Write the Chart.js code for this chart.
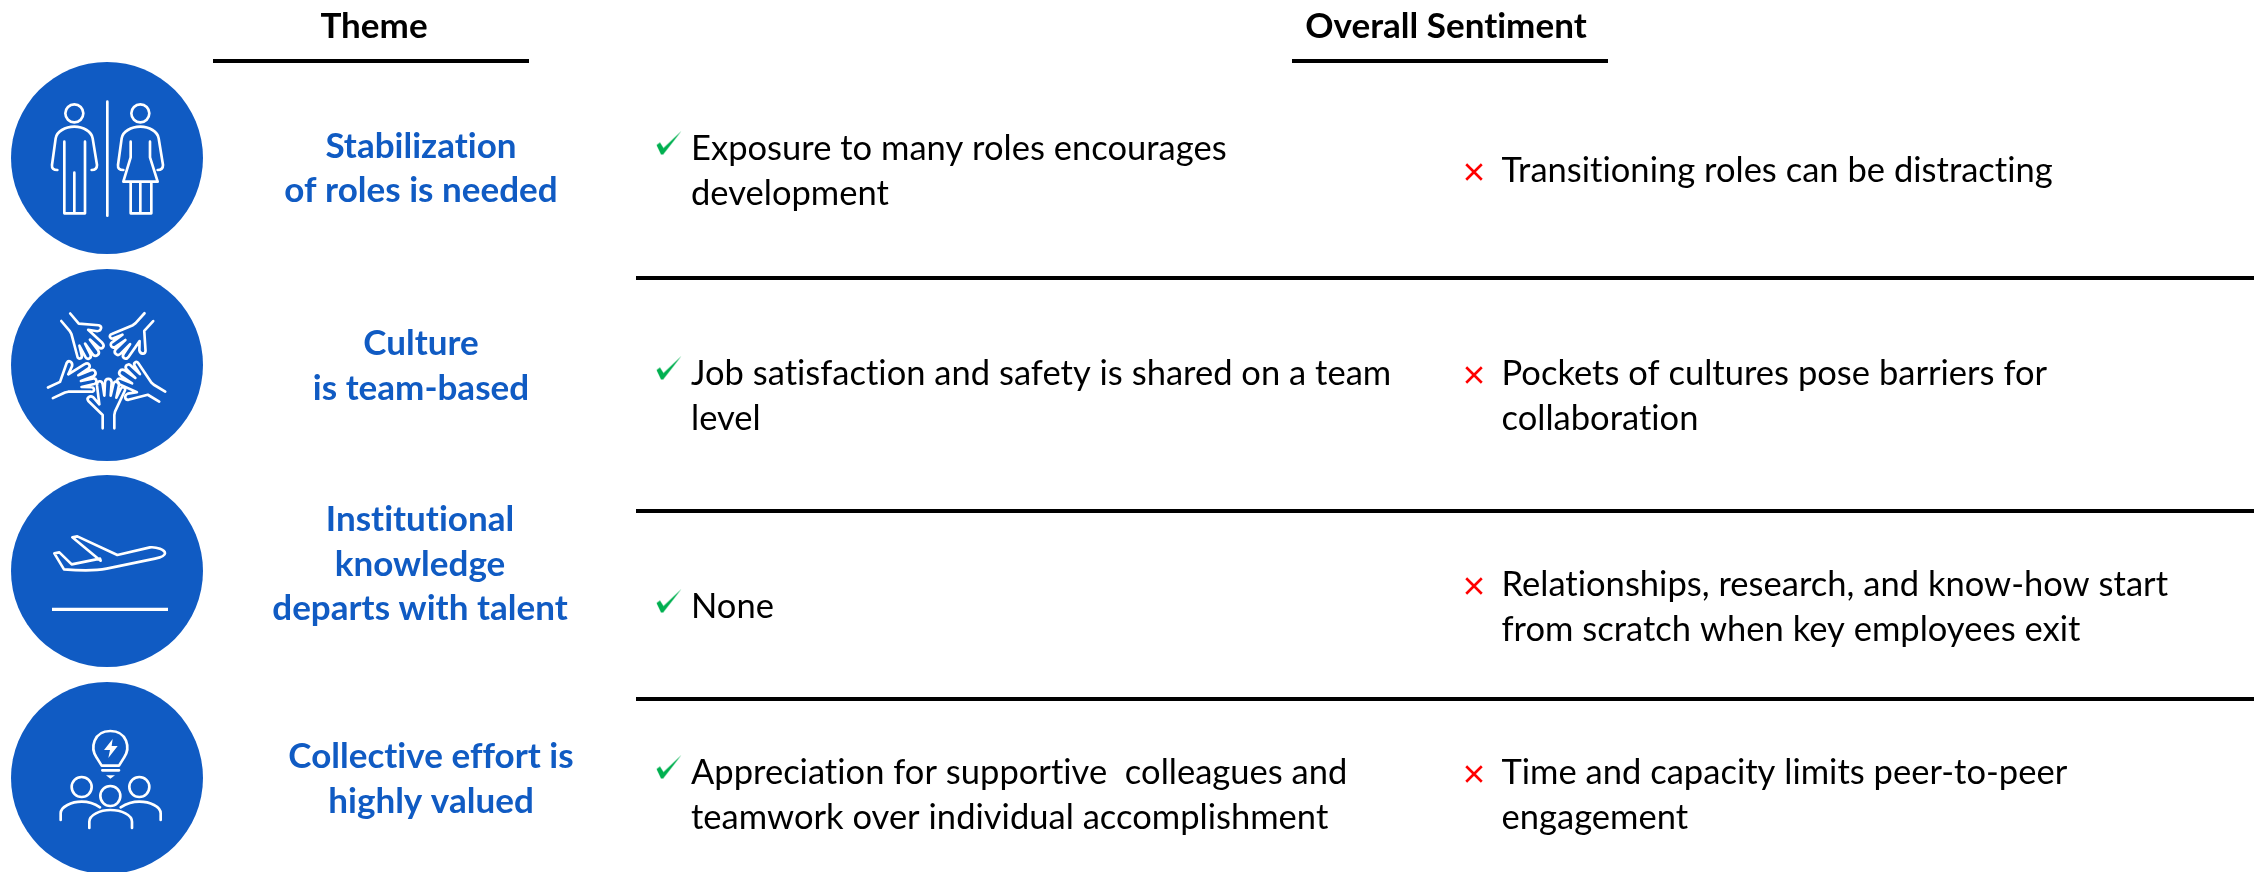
<!DOCTYPE html>
<html>
<head>
<meta charset="utf-8">
<title>Theme and overall sentiment</title>
<script src="https://cdn.jsdelivr.net/npm/chart.js@4"></script>
<style>
    html, body { margin: 0; padding: 0; background: #fff; overflow: hidden; }
    canvas { display: block; }
</style>
</head>
<body>
<canvas id="themeChart" width="2254" height="872"></canvas>
<script>
// Table content
const headers = ["Theme", "Overall Sentiment"];
const themes = [
    ["Stabilization", "of roles is needed"],
    ["Culture", "is team-based"],
    ["Institutional", "knowledge", "departs with talent"],
    ["Collective effort is", "highly valued"]
];
const positives = [
    ["Exposure to many roles encourages", "development"],
    ["Job satisfaction and safety is shared on a team", "level"],
    ["None"],
    ["Appreciation for supportive  colleagues and", "teamwork over individual accomplishment"]
];
const negatives = [
    ["Transitioning roles can be distracting"],
    ["Pockets of cultures pose barriers for", "collaboration"],
    ["Relationships, research, and know-how start", "from scratch when key employees exit"],
    ["Time and capacity limits peer-to-peer", "engagement"]
];

// Layout, in page pixels (the axes run 0-2254 and 0-872)
const circleX = 107;
const circleY = [158, 365, 571, 778];
const headerX = [374, 1446];
const headerBase = 38;
const headerRules = [[213, 529], [1292, 1608]];
const headerRuleY = 61;
const rowRules = [278, 511, 699];
const rowRuleStart = 636;
const themeX = [421, 421, 420, 431];
const themeBase = [157.5, 355, 531, 768];
const positiveX = 691;
const positiveBase = [160, 385, 618, 784];
const negativeX = 1501.5;
const negativeBase = [182, 385, 596, 784];
const lineStep = 44.5;
const checkX = 669;
const crossX = 1474;

const blue = "#105bc3";

// Green tick used as point style
function makeCheck() {
    const c = document.createElement("canvas");
    c.width = 26;
    c.height = 25;
    const g = c.getContext("2d");
    g.fillStyle = "#00b050";
    g.beginPath();
    g.moveTo(0.5, 14.5);
    g.lineTo(4, 12);
    g.lineTo(7.5, 17.5);
    g.lineTo(25.5, 0.5);
    g.lineTo(7.2, 24);
    g.lineTo(5, 24);
    g.closePath();
    g.fill();
    return c;
}

// Icon outlines, drawn in a 3x grid around the circle centre
const iconCentre = [[321, 264], [321, 300], [321, 303], [321, 324]];
const handPath = "M308,490 V450 L265,408 C258,398 270,390 280,397 L298,418 L291,362 C290,345 306,345 308,358 L313,392 L315,352 C316,338 334,338 335,352 L332,392 L340,358 C343,345 359,348 357,360 L349,398 L362,372 C367,362 380,368 374,378 L345,440 L343,450 V490";
const handAngles = [0, 59, 138, 220, 295];

function circlePath(x, y, r) {
    return `M${x + r},${y} A${r},${r} 0 1 0 ${x - r},${y} A${r},${r} 0 1 0 ${x + r},${y} Z `;
}

function drawIcon(ctx, i, px, py) {
    ctx.save();
    ctx.translate(px - iconCentre[i][0] / 3, py - iconCentre[i][1] / 3);
    ctx.scale(1 / 3, 1 / 3);
    ctx.strokeStyle = "#fff";
    ctx.fillStyle = "#fff";
    ctx.lineWidth = 8;
    ctx.lineJoin = "round";
    ctx.lineCap = "round";

    if (i === 0) {
        ctx.stroke(new Path2D(
            circlePath(223, 130, 27) +
            "M172,300 C160,300 155,295 156,285 L167,205 C170,185 195,170 223,170 C250,170 275,185 278,205 L291,285 C291,295 285,300 275,300 " +
            "M193,215 L193,430 L255,430 L255,215 M223,308 L223,430 " +
            "M322,95 L322,437 " +
            circlePath(421, 130, 27) +
            "M370,300 C358,300 353,295 354,285 L365,205 C368,185 393,170 421,170 C448,170 473,185 476,205 L489,285 C489,295 483,300 473,300 " +
            "M392,215 L392,262 L370,335 L473,335 L450,262 L450,215 " +
            "M392,335 V430 H454 V335 M421,335 V430"
        ));
    } else if (i === 1) {
        // same hand turned five times around the middle
        const hand = new Path2D(handPath);
        handAngles.forEach(function(a) {
            ctx.save();
            ctx.translate(322, 300);
            ctx.rotate(-a * Math.PI / 180);
            ctx.translate(-322, -300);
            ctx.stroke(hand);
            ctx.restore();
        });
    } else if (i === 2) {
        ctx.stroke(new Path2D(
            "M163,250 L178,247 L215,283 L300,266 L302,272 L217,202 L232,199 L352,255 L450,232 C470,230 495,240 495,250 C495,258 480,263 465,266 L320,296 C290,302 240,302 192,298 Z"
        ));
        ctx.lineCap = "butt";
        ctx.lineWidth = 10;
        ctx.stroke(new Path2D("M156,418 H504"));
    } else {
        ctx.stroke(new Path2D(
            "M305,287 L290,263 C270,235 280,183 331,183 C382,183 392,235 372,263 L357,287 Z " +
            "M307,301 H357 " +
            circlePath(245, 351, 30) + circlePath(418, 351, 30) + circlePath(331, 378, 30) +
            "M182,450 V430 C182,410 215,395 245,395 C265,395 285,402 300,412 " +
            "M362,412 C378,402 398,395 418,395 C450,395 482,410 482,430 V450 " +
            "M268,474 V455 C268,435 300,420 331,420 C365,420 396,435 396,455 V474"
        ));
        ctx.fill(new Path2D("M338,207 L312,240 L330,240 L325,264 L353,228 L335,228 Z M318,316 H345 L331,326 Z"));
    }
    ctx.restore();
}

// Text and icons go on top of the datasets
const tablePlugin = {
    id: "tableText",
    afterDatasetsDraw: function(chart) {
        const ctx = chart.ctx;
        const x = chart.scales.x;
        const y = chart.scales.y;

        circleY.forEach(function(cy, i) {
            drawIcon(ctx, i, x.getPixelForValue(circleX), y.getPixelForValue(cy));
        });

        function lines(list, px, base, font, color, align) {
            ctx.save();
            ctx.font = font;
            ctx.fillStyle = color;
            ctx.textAlign = align;
            ctx.textBaseline = "alphabetic";
            ctx.letterSpacing = "0.02px"; // stops Lato joining "ti" into a ligature
            list.forEach(function(t, k) {
                ctx.fillText(t, x.getPixelForValue(px), y.getPixelForValue(base + k * lineStep));
            });
            ctx.restore();
        }

        const bold = "bold 35px Lato";
        const regular = "34.5px Lato";
        headers.forEach(function(h, i) {
            lines([h], headerX[i], headerBase, bold, "#000", "center");
        });
        themes.forEach(function(t, i) {
            lines(t, themeX[i], themeBase[i], bold, blue, "center");
        });
        positives.forEach(function(t, i) {
            lines(t, positiveX, positiveBase[i], regular, "#000", "left");
        });
        negatives.forEach(function(t, i) {
            lines(t, negativeX, negativeBase[i], regular, "#000", "left");
        });
    }
};

function ruleDataset(x0, x1, yy) {
    return {
        type: "line",
        data: [{ x: x0, y: yy }, { x: x1, y: yy }],
        borderColor: "#000",
        borderWidth: 4,
        pointRadius: 0,
        order: 3
    };
}

const datasets = [];
headerRules.forEach(function(r) {
    datasets.push(ruleDataset(r[0], r[1], headerRuleY));
});
rowRules.forEach(function(yy) {
    datasets.push(ruleDataset(rowRuleStart, 2254, yy));
});
datasets.push({
    label: "circles",
    data: circleY.map(function(cy) { return { x: circleX, y: cy }; }),
    pointRadius: 96,
    pointBackgroundColor: blue,
    pointBorderWidth: 0,
    order: 2
});
datasets.push({
    label: "pros",
    data: positiveBase.map(function(b) { return { x: checkX, y: b - 17 }; }),
    pointStyle: makeCheck(),
    order: 1
});
datasets.push({
    label: "cons",
    data: negativeBase.map(function(b) { return { x: crossX, y: b - 10 }; }),
    pointStyle: "crossRot",
    pointRadius: 11,
    pointBorderColor: "#ff0000",
    pointBorderWidth: 2.6,
    order: 1
});

new Chart(document.getElementById("themeChart").getContext("2d"), {
    type: "scatter",
    data: { datasets: datasets },
    plugins: [tablePlugin],
    options: {
        responsive: false,
        animation: false,
        events: [],
        layout: { padding: 0, autoPadding: false },
        plugins: {
            legend: { display: false },
            title: { display: false },
            tooltip: { enabled: false }
        },
        scales: {
            x: { type: "linear", display: false, min: 0, max: 2254 },
            y: { type: "linear", display: false, min: 0, max: 872, reverse: true }
        }
    }
});
</script>
</body>
</html>
